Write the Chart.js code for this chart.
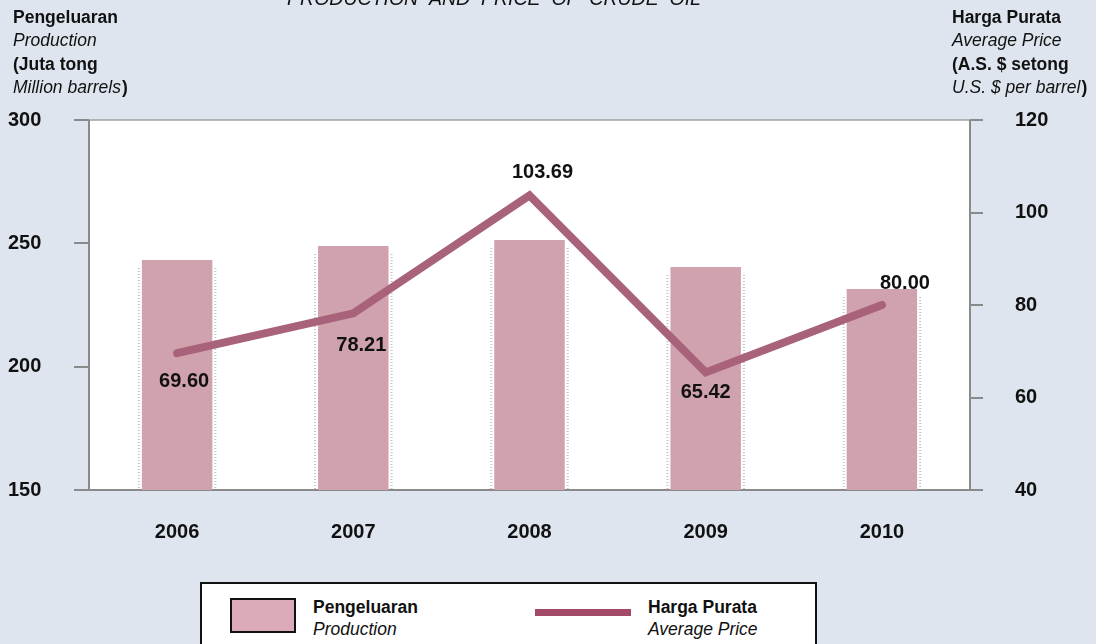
<!DOCTYPE html>
<html>
<head>
<meta charset="utf-8">
<script src="https://cdn.jsdelivr.net/npm/chart.js@4.4.1/dist/chart.umd.min.js"></script>
<style>
  html, body { margin: 0; padding: 0; background: #dee5ee; }
  body { width: 1096px; height: 644px; position: relative; overflow: hidden; font-family: "Liberation Sans", Arial, sans-serif; }
  #chart { position: absolute; left: 0; top: 0; }
  .legend {
    position: absolute; left: 200px; top: 582px; width: 617px; height: 70px;
    background: #fff; border: 2px solid #111; box-sizing: border-box;
  }
  .legend .item { position: absolute; top: 12px; font-size: 17.5px; line-height: 22px; color: #111; }
  .legend b { display: block; }
  .legend i { display: block; }
  .sw-bar { position: absolute; left: 28px; top: 14px; width: 62px; height: 31px; background: #dcaab8; border: 2px solid #111; }
  .sw-line { position: absolute; left: 333px; top: 25px; width: 96px; height: 7px; background: #a24a68; }
</style>
</head>
<body>
<canvas id="chart" width="1096" height="644"></canvas>
<div class="legend">
  <div class="sw-bar"></div>
  <div class="item" style="left:111px"><b>Pengeluaran</b><i>Production</i></div>
  <div class="sw-line"></div>
  <div class="item" style="left:446px"><b>Harga Purata</b><i>Average Price</i></div>
</div>
<script>
// data
const years = ["2006", "2007", "2008", "2009", "2010"];
const production = [243.2, 248.9, 251.4, 240.4, 231.5];   // juta tong / million barrels
const avgPrice = [69.60, 78.21, 103.69, 65.42, 80.00];    // US$ per barrel
const prodTicks = [150, 200, 250, 300];
const priceTicks = [40, 60, 80, 100, 120];

const FONT = "'Liberation Sans', Arial, sans-serif";
const barColor = "#cfa2ae";
const lineColor = "#a8627a";
const axisGray = "#8a8a8a";

// where each value label sits relative to its point (dx, dy)
const labelOffsets = [[7, 28], [8, 32], [13, -23], [0, 20], [23, -22]];

const frame = {
  id: "frame",
  beforeDatasetsDraw(chart) {
    const { ctx, chartArea: a } = chart;
    ctx.save();
    ctx.fillStyle = "#fff";
    ctx.fillRect(a.left, a.top, a.right - a.left, a.bottom - a.top);
    ctx.strokeStyle = "#a0a0a0";
    ctx.lineWidth = 1.5;
    ctx.beginPath();
    ctx.moveTo(a.left, a.top); ctx.lineTo(a.right, a.top);
    ctx.stroke();

    // faint dotted edges beside the bars
    ctx.strokeStyle = "#c4c4c4";
    ctx.lineWidth = 2;
    ctx.setLineDash([1, 2]);
    chart.getDatasetMeta(1).data.forEach(b => {
      const half = b.width / 2;
      ctx.beginPath();
      ctx.moveTo(b.x - half - 3, b.y + 8); ctx.lineTo(b.x - half - 3, a.bottom);
      ctx.moveTo(b.x + half + 3, b.y + 8); ctx.lineTo(b.x + half + 3, a.bottom);
      ctx.stroke();
    });
    ctx.setLineDash([]);

    ctx.strokeStyle = axisGray;
    ctx.lineWidth = 2;
    ctx.beginPath();
    ctx.moveTo(a.left, a.top); ctx.lineTo(a.left, a.bottom);
    ctx.lineTo(a.right, a.bottom); ctx.lineTo(a.right, a.top);
    ctx.stroke();
    ctx.restore();
  },
  afterDraw(chart) {
    const { ctx } = chart;
    ctx.save();
    ctx.fillStyle = "#111";
    // title, mostly cut off at the top
    ctx.font = "italic 19.5px " + FONT;
    ctx.textAlign = "center";
    ctx.textBaseline = "alphabetic";
    ctx.fillText("PRODUCTION  AND  PRICE  OF  CRUDE  OIL", 494, 5);

    // axis headers
    ctx.textAlign = "left";
    ctx.textBaseline = "middle";
    const heads = [
      [13, ["Pengeluaran", "Production", "(Juta tong", "Million barrels)"]],
      [952, ["Harga Purata", "Average Price", "(A.S. $ setong", "U.S. $ per barrel)"]]
    ];
    heads.forEach(([x, lines]) => {
      lines.forEach((t, i) => {
        const bold = i % 2 === 0;
        let txt = t, tail = "";
        if (i === 3) { txt = t.slice(0, -1); tail = ")"; }
        ctx.font = (bold ? "bold " : "italic ") + "17.5px " + FONT;
        const y = 18 + i * 23.5;
        ctx.fillText(txt, x, y);
        if (tail) {
          const w = ctx.measureText(txt).width;
          ctx.font = "bold 17.5px " + FONT;
          ctx.fillText(tail, x + w + 1, y);
        }
      });
    });

    // value labels on the price line
    const meta = chart.getDatasetMeta(0);
    ctx.font = "bold 20px " + FONT;
    ctx.textAlign = "center";
    meta.data.forEach((pt, i) => {
      const [dx, dy] = labelOffsets[i];
      ctx.fillText(avgPrice[i].toFixed(2), pt.x + dx, pt.y + dy);
    });
    ctx.restore();
  }
};

new Chart(document.getElementById("chart"), {
  data: {
    labels: years,
    datasets: [
      {
        type: "line",
        label: "Harga Purata",
        data: avgPrice,
        yAxisID: "yPrice",
        borderColor: lineColor,
        borderWidth: 8,
        borderCapStyle: "round",
        borderJoinStyle: "miter",
        pointRadius: 0,
        tension: 0,
        order: 0
      },
      {
        type: "bar",
        label: "Pengeluaran",
        data: production,
        yAxisID: "yProd",
        backgroundColor: barColor,
        borderWidth: 0,
        barPercentage: 0.4,
        categoryPercentage: 1,
        order: 1
      }
    ]
  },
  options: {
    responsive: false,
    animation: false,
    layout: { padding: { top: 120, left: 8, right: 0, bottom: 0 } },
    plugins: { legend: { display: false }, tooltip: { enabled: false } },
    scales: {
      x: {
        offset: true,
        grid: { display: false, drawTicks: false },
        border: { display: false },
        ticks: { color: "#111", font: { family: FONT, size: 20, weight: "bold" }, padding: 30 },
        afterFit: s => { s.height = 154; }
      },
      yProd: {
        position: "left",
        min: 150, max: 300,
        afterBuildTicks: s => { s.ticks = prodTicks.map(v => ({ value: v })); },
        grid: { drawOnChartArea: false, tickLength: 15, color: axisGray, lineWidth: 2 },
        border: { display: false },
        ticks: { color: "#111", crossAlign: "far", font: { family: FONT, size: 20, weight: "bold" } },
        afterFit: s => { s.width = 81; }
      },
      yPrice: {
        position: "right",
        min: 40, max: 120,
        afterBuildTicks: s => { s.ticks = priceTicks.map(v => ({ value: v })); },
        grid: { drawOnChartArea: false, tickLength: 13, color: axisGray, lineWidth: 2 },
        border: { display: false },
        ticks: { color: "#111", crossAlign: "near", padding: 32, font: { family: FONT, size: 20, weight: "bold" } },
        afterFit: s => { s.width = 126; }
      }
    }
  },
  plugins: [frame]
});
</script>
</body>
</html>
